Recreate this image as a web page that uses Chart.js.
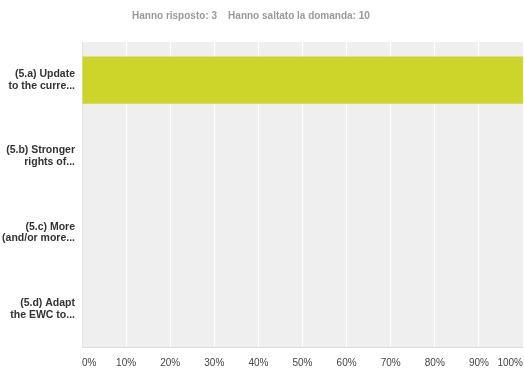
<!DOCTYPE html>
<html>
<head>
<meta charset="utf-8">
<script src="https://cdn.jsdelivr.net/npm/chart.js@4/dist/chart.umd.min.js"></script>
<style>
  html, body { margin: 0; padding: 0; background: #fff; }
  #wrap { position: relative; width: 524px; height: 370px; }
  #summary {
    position: absolute; top: 10px; left: 132px;
    font: bold 10px "Liberation Sans", Arial, sans-serif; color: #9a9a9a;
    white-space: pre;
  }
</style>
</head>
<body>
<div id="wrap">
  <div id="summary">Hanno risposto: 3    Hanno saltato la domanda: 10</div>
  <canvas id="grafico" width="524" height="370"></canvas>
</div>
<script>
// Risposte (percentuale)
const categorie = [
    ['(5.a) Update', 'to the curre...'],
    ['(5.b) Stronger', 'rights of...'],
    ['(5.c) More', '(and/or more...'],
    ['(5.d) Adapt', 'the EWC to...']
];
const percentuali = [100, 0, 0, 0];
const tickPercent = [0, 10, 20, 30, 40, 50, 60, 70, 80, 90, 100];

// sfondo grigio dell'area del grafico
const sfondo = {
    id: 'sfondo',
    beforeDraw(chart) {
        const { ctx, chartArea: a } = chart;
        ctx.save();
        ctx.fillStyle = '#efefef';
        ctx.fillRect(a.left, a.top, a.right - a.left, a.bottom - a.top);
        ctx.restore();
    }
};

const config = {
    type: 'bar',
    data: {
        labels: categorie,
        datasets: [{
            data: percentuali,
            backgroundColor: '#cdd52b',
            borderWidth: 0,
            barPercentage: 0.62,
            categoryPercentage: 1
        }]
    },
    options: {
        indexAxis: 'y',
        responsive: false,
        animation: false,
        layout: { padding: { top: 42, right: 1, bottom: 0, left: 0 } },
        plugins: { legend: { display: false }, tooltip: { enabled: false } },
        scales: {
            x: {
                min: 0,
                max: 100,
                afterBuildTicks: (scale) => { scale.ticks = tickPercent.map(v => ({ value: v })); },
                afterFit: (scale) => {
                    scale.height = 23;
                    scale.paddingLeft = 0;
                    scale.paddingRight = 0;
                },
                grid: { color: '#ffffff', lineWidth: 1, drawTicks: false },
                border: { display: true, color: '#dcdcdc' },
                ticks: {
                    align: 'inner',
                    padding: 10,
                    color: '#444',
                    font: { family: '"Liberation Sans", Arial, sans-serif', size: 10 },
                    callback: (v) => v + '%'
                }
            },
            y: {
                afterFit: (scale) => { scale.width = 82; },
                grid: { display: false, drawTicks: false },
                border: { display: true, color: '#e2e2e2' },
                ticks: {
                    padding: 7,
                    color: '#333',
                    font: { family: '"Liberation Sans", Arial, sans-serif', size: 10.5, weight: 'bold', lineHeight: 1.1 }
                }
            }
        }
    },
    plugins: [sfondo]
};

const grafico = new Chart(document.getElementById('grafico'), config);
</script>
</body>
</html>
